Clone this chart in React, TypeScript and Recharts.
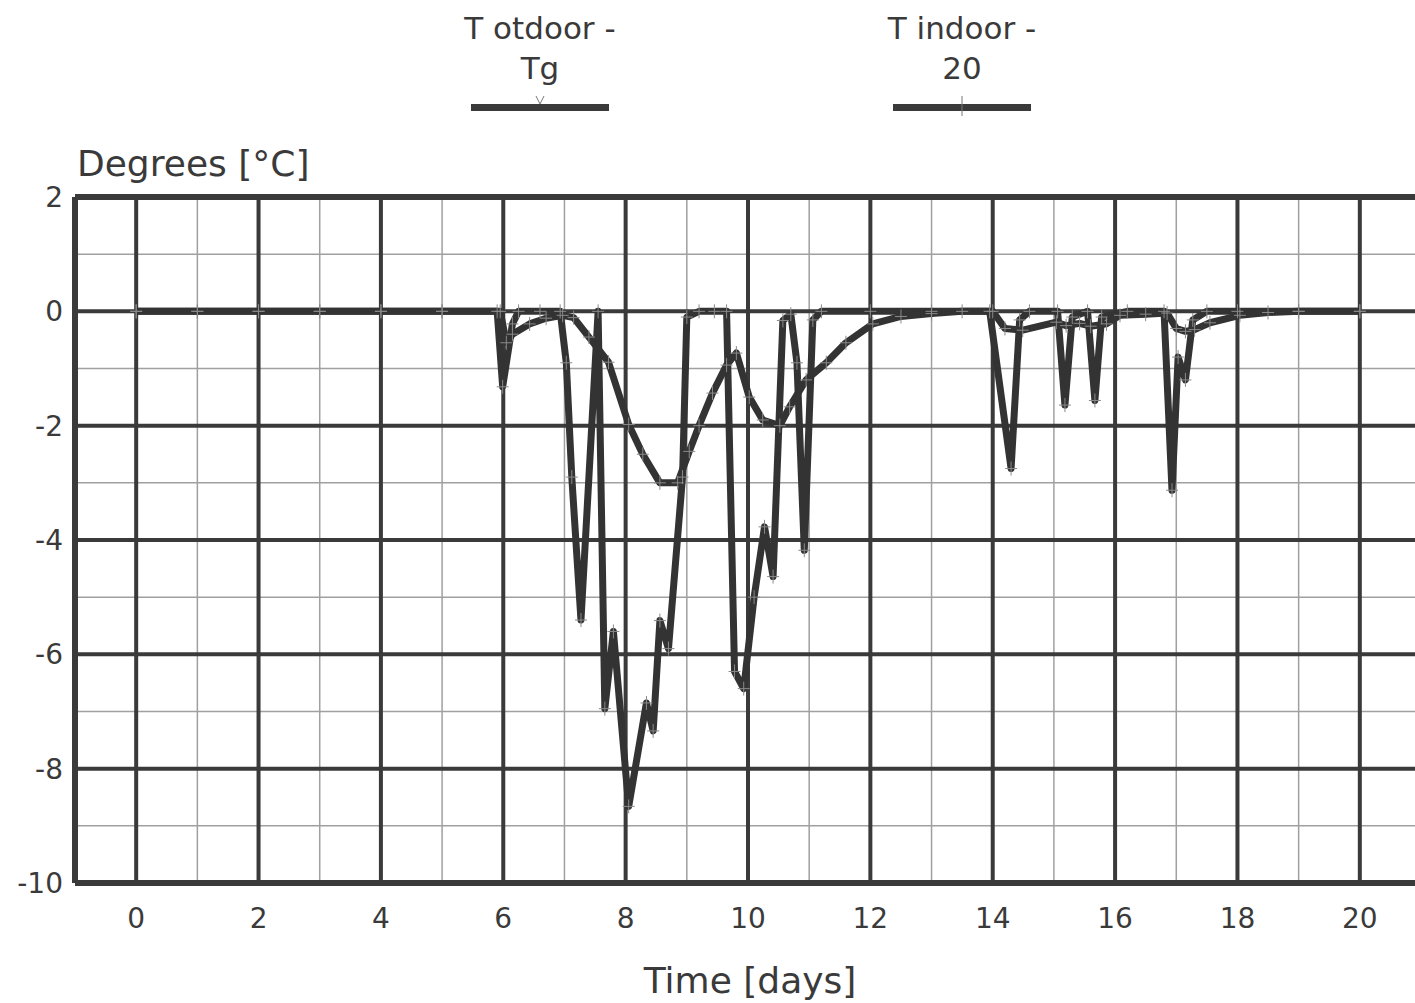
import { LineChart, Line, XAxis, YAxis, ReferenceLine, Legend } from "recharts"

const seriesNames = ["T otdoor - Tg", "T indoor - 20"]

// T outdoor - Tg
const outdoorDays = [
  0, 1, 2, 3, 4, 5, 5.9, 5.99, 6.15, 6.25, 6.6, 6.93, 7.03, 7.12, 7.27, 7.55, 7.66, 7.8, 8.05, 8.34,
  8.45, 8.56, 8.7, 8.93, 9.0, 9.2, 9.45, 9.65, 9.78, 9.93, 10.1, 10.27, 10.41, 10.57, 10.7, 10.8,
  10.92, 11.06, 11.2, 12, 13, 13.95, 14.3, 14.44, 14.6, 15.06, 15.18, 15.3, 15.55, 15.67, 15.78,
  16.2, 16.8, 16.93, 17.03, 17.15, 17.27, 17.5, 18, 19, 20,
]
const outdoorValues = [
  0, 0, 0, 0, 0, 0, 0, -1.32, -0.22, 0, 0, 0, -0.9, -2.9, -5.4, 0, -6.95, -5.6, -8.66, -6.85,
  -7.34, -5.41, -5.9, -2.9, -0.1, 0, 0, 0, -6.3, -6.6, -5.0, -3.77, -4.64, -0.16, -0.05, -0.9,
  -4.18, -0.15, 0, 0, 0, 0, -2.75, -0.15, 0, 0, -1.64, -0.1, 0, -1.56, -0.1,
  0, 0, -3.13, -0.8, -1.2, -0.15, 0, 0, 0, 0,
]

// T indoor - 20
const indoorDays = [
  0, 1, 2, 3, 4, 5, 5.95, 6.05, 6.15, 6.43, 6.7, 6.97, 7.15, 7.4, 7.72, 8.05, 8.28, 8.56, 8.85,
  9.04, 9.2, 9.42, 9.65, 9.81, 10.02, 10.24, 10.52, 10.68, 10.95, 11.28, 11.6, 12.04, 12.5, 13,
  13.5, 14, 14.2, 14.49, 15.04, 15.2, 15.42, 15.6, 15.86, 16.08, 16.5, 16.85, 17.0, 17.15, 17.3,
  17.55, 18.04, 18.5, 19, 20,
]
const indoorValues = [
  0, 0, 0, 0, 0, 0, 0, -0.55, -0.4, -0.22, -0.12, -0.07, -0.11, -0.45, -0.89, -1.98, -2.5, -3.0, -3.0,
  -2.45, -2.0, -1.43, -0.94, -0.73, -1.5, -1.9, -2.0, -1.67, -1.2, -0.9, -0.55, -0.22, -0.09, -0.04,
  0, 0, -0.3, -0.33, -0.19, -0.25, -0.21, -0.26, -0.22, -0.07, -0.05, -0.03, -0.3, -0.35, -0.32,
  -0.2, -0.07, -0.02, 0, 0,
]

const xTicks = [0, 2, 4, 6, 8, 10, 12, 14, 16, 18, 20]
const xMinor = [1, 3, 5, 7, 9, 11, 13, 15, 17, 19]
const yTicks = [2, 0, -2, -4, -6, -8, -10]
const yMajor = [0, -2, -4, -6, -8]
const yMinor = [1, -1, -3, -5, -7, -9]
const xDomain = [-1, 21]
const yDomain = [-10, 2]

const outdoor = outdoorDays.map((d, i) => ({ day: d, value: outdoorValues[i] }))
const indoor = indoorDays.map((d, i) => ({ day: d, value: indoorValues[i] }))

const FONT = '"DejaVu Sans", Verdana, sans-serif'
const INK = "#3a3a3a"
const TEXT = "#3a3a3a"

const PlusDot = (props: any) => {
  const { cx, cy, index } = props
  if (cx == null || cy == null) return <g key={index} />
  return (
    <g key={index} stroke="#8a8a8a" strokeWidth={1}>
      <line x1={cx - 6} x2={cx + 6} y1={cy} y2={cy} />
      <line x1={cx} x2={cx} y1={cy - 7} y2={cy + 7} />
    </g>
  )
}

const XTick = (props: any) => (
  <text x={props.x} y={props.y + 45} textAnchor="middle" fontSize={28} fill={TEXT} fontFamily={FONT}>
    {props.payload.value}
  </text>
)

const YTick = (props: any) => (
  <text x={props.x} y={props.y + 10} textAnchor="end" fontSize={28} fill={TEXT} fontFamily={FONT}>
    {props.payload.value}
  </text>
)

const legendCenters = [540, 962]

const LegendContent = (props: any) => {
  const payload = [...(props.payload ?? [])].sort(
    (a: any, b: any) => seriesNames.indexOf(a.value) - seriesNames.indexOf(b.value)
  )
  return (
    <div style={{ position: "relative", width: 1415, height: 120 }}>
      {payload.map((p: any, i: number) => {
        const [first, second] = String(p.value).split(" - ")
        return (
          <div
            key={i}
            style={{
              position: "absolute",
              left: legendCenters[i] - 110,
              width: 220,
              top: 8,
              textAlign: "center",
              fontFamily: FONT,
              fontSize: 31,
              lineHeight: "40px",
              color: TEXT,
            }}
          >
            <div>{first} -</div>
            <div>{second}</div>
            <svg width={220} height={30} style={{ display: "block", marginTop: 4 }}>
              <rect x={41} y={12} width={138} height={7} fill={INK} />
              {i === 0 ? (
                <path d="M106 4 L110 12 L114 4" stroke="#777" strokeWidth={1} fill="none" />
              ) : (
                <line x1={110} x2={110} y1={4} y2={24} stroke="#777" strokeWidth={1} />
              )}
            </svg>
          </div>
        )
      })}
    </div>
  )
}

export default function App() {
  return (
    <div
      style={{
        position: "fixed",
        left: 0,
        top: 0,
        width: 1415,
        height: 1003,
        overflow: "hidden",
        background: "#fff",
      }}
    >
      <LineChart width={1421} height={1003} margin={{ top: 197, right: 0, left: 0, bottom: 0 }}>
        <XAxis
          dataKey="day"
          type="number"
          domain={xDomain}
          ticks={xTicks}
          allowDataOverflow
          height={120}
          axisLine={false}
          tickLine={false}
          tickSize={0}
          tickMargin={0}
          tick={<XTick />}
        />
        <YAxis
          type="number"
          domain={yDomain}
          ticks={yTicks}
          allowDataOverflow
          width={75}
          axisLine={false}
          tickLine={false}
          tickSize={0}
          tickMargin={12}
          tick={<YTick />}
        />
        {xMinor.map((d) => (
          <ReferenceLine key={"xm" + d} x={d} stroke="#a0a0a0" strokeWidth={1.5} />
        ))}
        {yMinor.map((v) => (
          <ReferenceLine key={"ym" + v} y={v} stroke="#a0a0a0" strokeWidth={1.5} />
        ))}
        {xTicks.map((d) => (
          <ReferenceLine key={"xM" + d} x={d} stroke={INK} strokeWidth={4} />
        ))}
        {yMajor.map((v) => (
          <ReferenceLine key={"yM" + v} y={v} stroke={INK} strokeWidth={4} />
        ))}
        <ReferenceLine x={xDomain[0]} stroke={INK} strokeWidth={6} />
        <ReferenceLine x={xDomain[1]} stroke={INK} strokeWidth={6} />
        <ReferenceLine y={yDomain[0]} stroke={INK} strokeWidth={6} />
        <ReferenceLine y={yDomain[1]} stroke={INK} strokeWidth={6} />
        <Legend
          layout="horizontal"
          verticalAlign="middle"
          align="center"
          content={<LegendContent />}
          wrapperStyle={{ top: 0, left: 0, width: 1415, height: 120 }}
        />
        <Line
          data={outdoor}
          dataKey="value"
          name={seriesNames[0]}
          type="linear"
          stroke="#333333"
          strokeWidth={7}
          strokeLinejoin="round"
          dot={<PlusDot />}
          activeDot={false}
          isAnimationActive={false}
        />
        <Line
          data={indoor}
          dataKey="value"
          name={seriesNames[1]}
          type="linear"
          stroke="#333333"
          strokeWidth={7}
          strokeLinejoin="round"
          dot={<PlusDot />}
          activeDot={false}
          isAnimationActive={false}
        />
      </LineChart>
      <div
        style={{
          position: "absolute",
          left: 77,
          top: 146,
          fontFamily: FONT,
          fontSize: 36,
          lineHeight: "35px",
          color: TEXT,
          whiteSpace: "nowrap",
        }}
      >
        Degrees [°C]
      </div>
      <div
        style={{
          position: "absolute",
          left: 550,
          width: 400,
          top: 963,
          textAlign: "center",
          fontFamily: FONT,
          fontSize: 36,
          lineHeight: "35px",
          color: TEXT,
          whiteSpace: "nowrap",
        }}
      >
        Time [days]
      </div>
    </div>
  )
}
